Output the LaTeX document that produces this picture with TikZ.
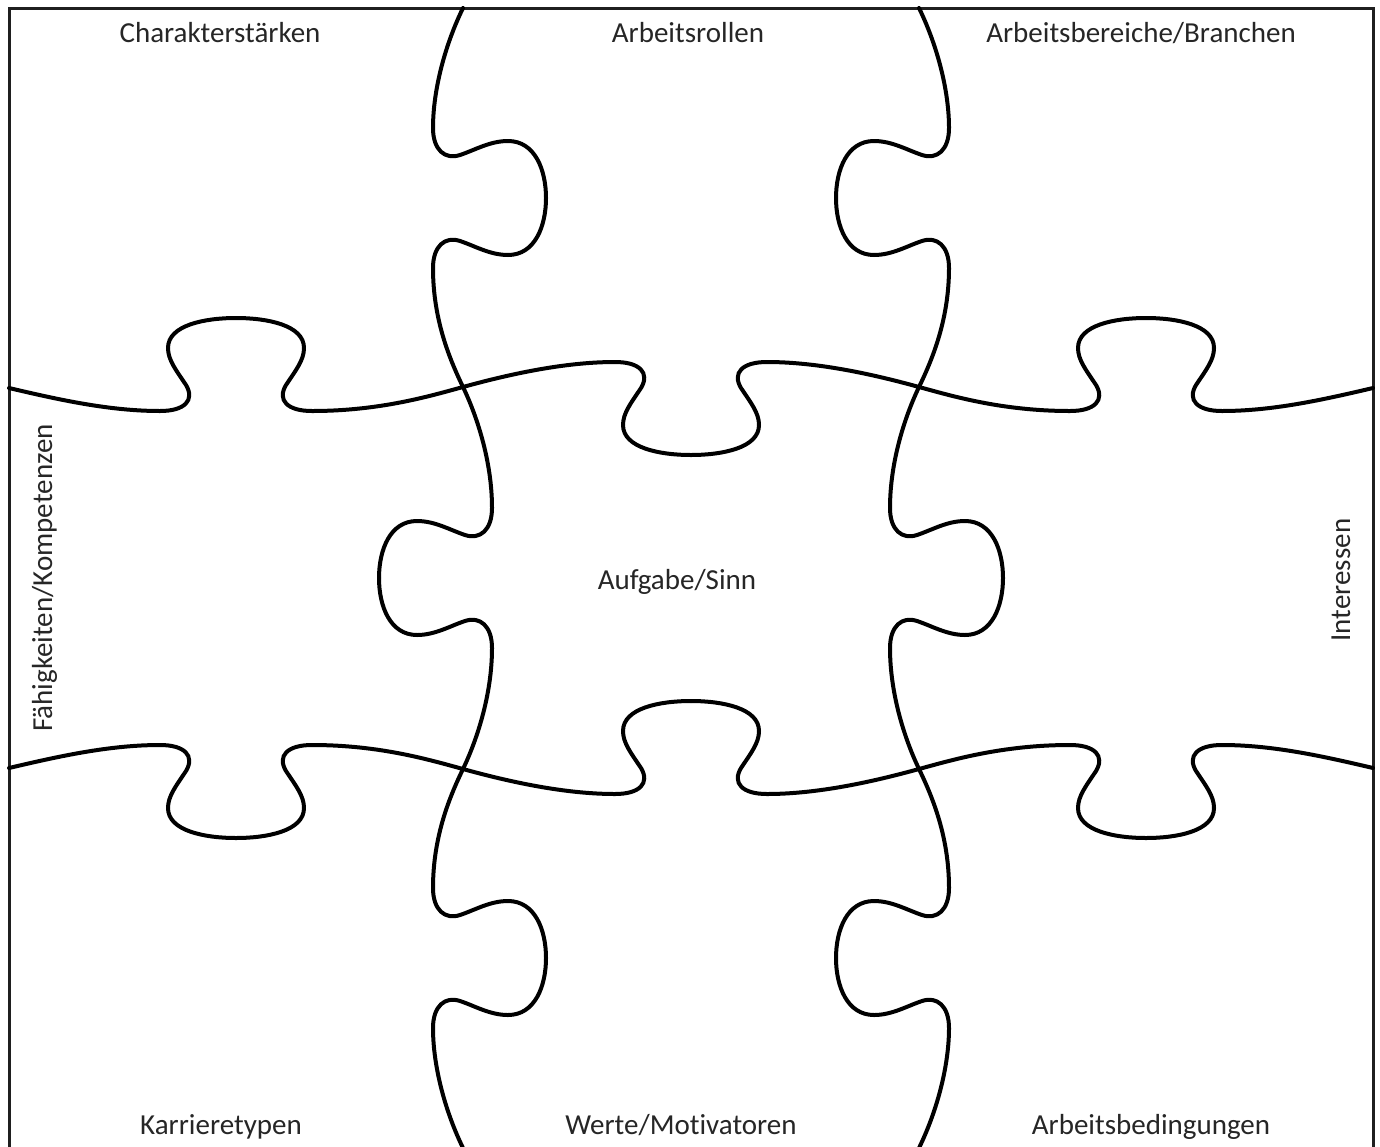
\documentclass[tikz,border=0pt]{standalone}
\usepackage{fontspec}
\setmainfont{Carlito}[Ligatures={NoCommon}]
\tikzset{
  puzzle/.style={line width=4pt, line cap=round, line join=round, draw=black},
  frameline/.style={line width=3pt, draw=black!88},
  lbl/.style={text=black!85, font=\fontsize{29}{34}\selectfont, inner sep=0pt, anchor=base},
  hhalf/.style={insert path={(9,388) .. controls (60,400) and (110,411) .. (160,411)
     .. controls (185,411) and (195,400) .. (186,385)
     .. controls (176,370) and (168,360) .. (168,348)
     .. controls (168,325) and (205,318) .. (236,318)
     .. controls (267,318) and (304,325) .. (304,348)
     .. controls (304,360) and (296,370) .. (286,385)
     .. controls (277,400) and (287,411) .. (312,411)
     .. controls (380,411) and (430,396) .. (463,387)
     .. controls (510,374) and (565,362) .. (615,362)
     .. controls (640,362) and (650,373) .. (641,388)
     .. controls (631,403) and (623,413) .. (623,425)
     .. controls (623,448) and (660,455) .. (691,455)}},
  vhalf/.style={insert path={(463,8) .. controls (445,45) and (433,90) .. (433,128)
     .. controls (433,150) and (445,160) .. (460,155)
     .. controls (475,150) and (490,141) .. (508,141)
     .. controls (535,141) and (546,170) .. (546,198)
     .. controls (546,226) and (535,255) .. (508,255)
     .. controls (490,255) and (475,246) .. (460,241)
     .. controls (445,236) and (433,246) .. (433,268)
     .. controls (433,320) and (450,360) .. (463,387)
     .. controls (476,414) and (492,460) .. (492,508)
     .. controls (492,530) and (480,540) .. (465,535)
     .. controls (450,530) and (435,521) .. (417,521)
     .. controls (390,521) and (379,550) .. (379,578)}}
}
\begin{document}
\begin{tikzpicture}[x=1pt,y=-1pt]
\useasboundingbox (0,0) rectangle (1380,1146);
\fill[white] (0,0) rectangle (1380,1146);
\clip (0,0) rectangle (1380,1146);
% frame
\draw[frameline] (9,1160) -- (9,8) -- (1373,8) -- (1373,1160);
% horizontal seams
\draw[puzzle, hhalf];
\begin{scope}[shift={(1382,0)}, xscale=-1]
  \draw[puzzle, hhalf];
\end{scope}
\begin{scope}[shift={(0,1156)}, yscale=-1]
  \draw[puzzle, hhalf];
\end{scope}
\begin{scope}[shift={(1382,1156)}, xscale=-1, yscale=-1]
  \draw[puzzle, hhalf];
\end{scope}
% vertical seams
\draw[puzzle, vhalf];
\begin{scope}[shift={(1382,0)}, xscale=-1]
  \draw[puzzle, vhalf];
\end{scope}
\begin{scope}[shift={(0,1156)}, yscale=-1]
  \draw[puzzle, vhalf];
\end{scope}
\begin{scope}[shift={(1382,1156)}, xscale=-1, yscale=-1]
  \draw[puzzle, vhalf];
\end{scope}
% labels
\node[lbl] (charakter) at (220,42) {Charakterstärken};
\node[lbl] (rollen) at (688,42) {Arbeitsrollen};
\node[lbl] (bereiche) at (1141,42) {Arbeitsbereiche/Branchen};
\node[lbl] (karriere) at (221,1134) {Karrieretypen};
\node[lbl] (werte) at (681,1134) {Werte/Motivatoren};
\node[lbl] (bedingungen) at (1151,1134) {Arbeitsbedingungen};
\node[lbl] (aufgabe) at (677,589) {Aufgabe/Sinn};
\node[lbl, rotate=90] (faehig) at (52,578) {Fähigkeiten/Kompetenzen};
\node[lbl, rotate=90] (interessen) at (1350,580) {Interessen};
\end{tikzpicture}
\end{document}
